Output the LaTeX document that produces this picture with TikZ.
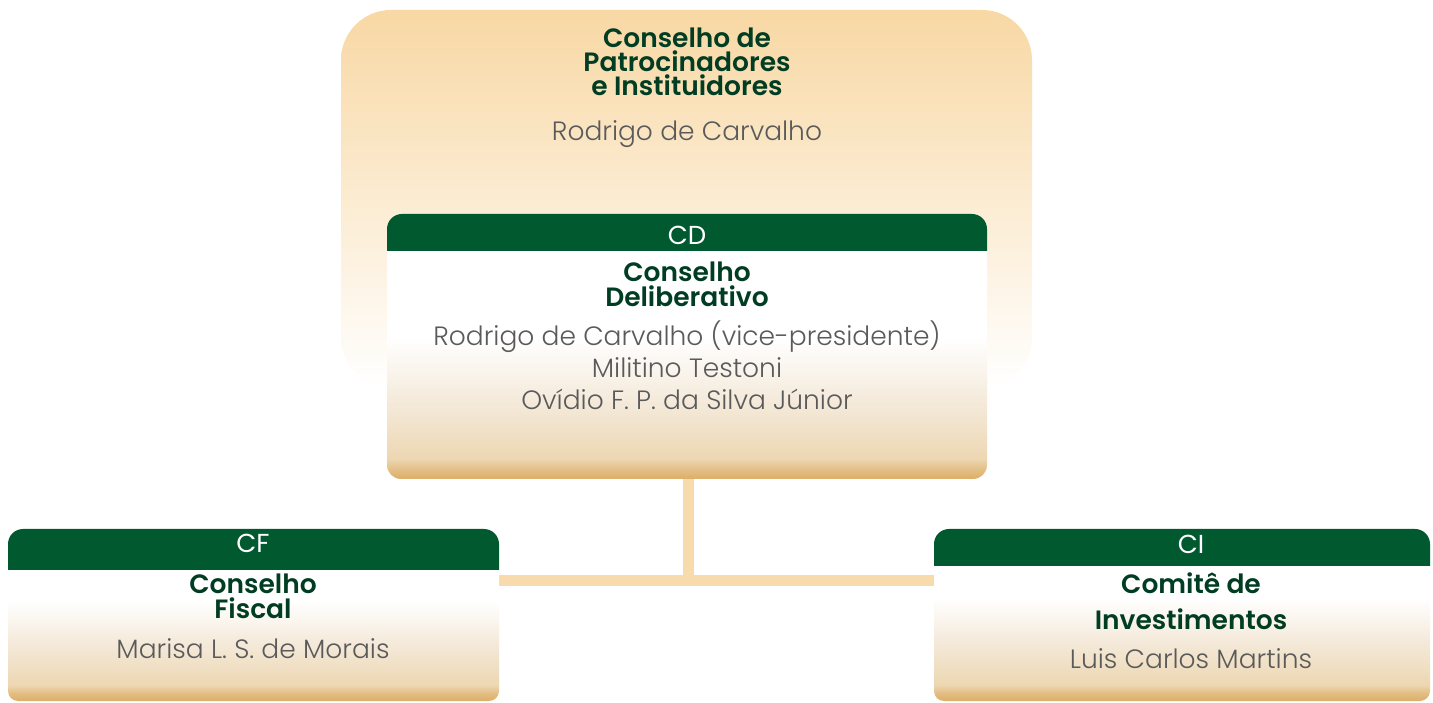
\documentclass[tikz,border=0pt]{standalone}
\usepackage{fontspec}
\setmainfont{Poppins}[BoldFont={Poppins SemiBold}]
\newfontfamily\lightfont{Poppins Light}
\definecolor{hdr}{HTML}{01592F}
\definecolor{ttl}{HTML}{003D22}
\definecolor{nm}{HTML}{5A5A5A}
\definecolor{sand}{HTML}{F8DBAD}
\definecolor{topc}{HTML}{F8D8A4}
\definecolor{gold1}{HTML}{DCAE68}
\definecolor{gold2}{HTML}{E3BE83}
\definecolor{beige1}{HTML}{EDD7B2}
\definecolor{beige2}{HTML}{F3E7D5}
\pgfdeclareverticalshading{bodyA}{100bp}{color(0bp)=(gold1); color(25bp)=(gold1); color(27bp)=(gold2); color(29.5bp)=(beige1); color(40bp)=(beige2); color(56bp)=(white); color(100bp)=(white)}
\pgfdeclareverticalshading{bodyB}{100bp}{color(0bp)=(gold1); color(25bp)=(gold1); color(28bp)=(gold2); color(31bp)=(beige1); color(45bp)=(beige2); color(63bp)=(white); color(100bp)=(white)}
\tikzset{
  hdrbox/.style={fill=hdr},
  bodyboxA/.style={shading=bodyA},
  bodyboxB/.style={shading=bodyB},
  hdrtext/.style={anchor=base, text=white, font=\fontsize{26}{26}\selectfont, inner sep=0pt},
  ttltext/.style={anchor=base, text=ttl, font=\fontsize{26.5}{26}\selectfont\bfseries, inner sep=0pt},
  nmtext/.style={anchor=base, text=nm, font=\fontsize{26.5}{26}\selectfont\lightfont, inner sep=0pt},
  conn/.style={draw=sand, line width=11pt},
}
\begin{document}
\begin{tikzpicture}[x=1pt,y=1pt]
\useasboundingbox (0,0) rectangle (1433,702);
% top background box
\shade[top color=topc, bottom color=white, rounded corners=50] (341,314) rectangle (1032,692);
\node[ttltext] (t1) at (687,654) {Conselho de};
\node[ttltext] (t2) at (687,630) {Patrocinadores};
\node[ttltext] (t3) at (687,606) {e Instituidores};
\node[nmtext] (t4) at (687,561) {Rodrigo de Carvalho};

% connectors
\coordinate (cdbot) at (688,230);
\coordinate (junc) at (688,121.5);
\coordinate (cfR) at (495,121.5);
\coordinate (ciL) at (938,121.5);
\draw[conn] (cdbot) -- (junc);
\draw[conn] (cfR) -- (ciL);

% CD box
\path[bodyboxA, rounded corners=14] (387,451) -- (387,223) -- (987,223) -- (987,451);
\path[hdrbox, rounded corners=15] (387,451) -- (387,488) -- (987,488) -- (987,451);
\node[hdrtext] (cd) at (687,457) {CD};
\node[ttltext] (cd1) at (687,420) {Conselho};
\node[ttltext] (cd2) at (687,395) {Deliberativo};
\node[nmtext] (cd3) at (687,356) {Rodrigo de Carvalho (vice-presidente)};
\node[nmtext] (cd4) at (687,324) {Militino Testoni};
\node[nmtext] (cd5) at (687,292) {Ovídio F. P. da Silva Júnior};

% CF box
\path[bodyboxB, rounded corners=10] (8,132) -- (8,1) -- (499,1) -- (499,132);
\path[hdrbox, rounded corners=15] (8,132) -- (8,173) -- (499,173) -- (499,132);
\node[hdrtext] (cf) at (253,149) {CF};
\node[ttltext] (cf1) at (253,108) {Conselho};
\node[ttltext] (cf2) at (253,83) {Fiscal};
\node[nmtext] (cf3) at (253,44) {Marisa L. S. de Morais};

% CI box
\path[bodyboxB, rounded corners=10] (934,136) -- (934,1) -- (1430,1) -- (1430,136);
\path[hdrbox, rounded corners=15] (934,136) -- (934,173) -- (1430,173) -- (1430,136);
\node[hdrtext] (ci) at (1191,148) {CI};
\node[ttltext] (ci1) at (1191,108) {Comitê de};
\node[ttltext] (ci2) at (1191,73) {Investimentos};
\node[nmtext] (ci3) at (1191,34) {Luis Carlos Martins};
\end{tikzpicture}
\end{document}
